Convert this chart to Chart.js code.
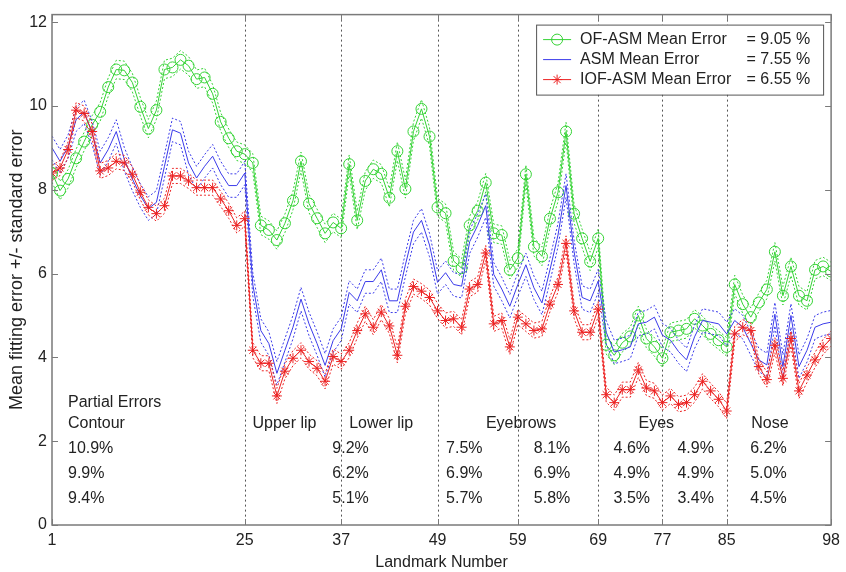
<!DOCTYPE html>
<html>
<head>
<meta charset="utf-8">
<script src="https://cdn.jsdelivr.net/npm/chart.js@4.4.1/dist/chart.umd.min.js"></script>
<style>
  html, body { margin: 0; padding: 0; background: #fff; }
</style>
</head>
<body>
<canvas id="chartErr" width="846" height="572"></canvas>
<script>
// axis ticks and region borders
const xTicks = [1, 25, 37, 49, 59, 69, 77, 85, 98];
const yTicks = [0, 2, 4, 6, 8, 10, 12];
const regionBounds = [25, 37, 49, 59, 69, 77, 85];

// landmark numbers 1..98
const landmarks = Array.from({ length: 98 }, (_, i) => i + 1);

// mean fitting error per landmark
const ofAsm = [
  8.4, 7.98, 8.26, 8.75, 9.15, 9.55, 9.86, 10.45, 10.87, 10.85,
  10.56, 9.98, 9.46, 9.9, 10.87, 10.92, 11.1, 10.96, 10.64, 10.68,
  10.29, 9.62, 9.23, 8.92, 8.85, 8.64, 7.15, 7.04, 6.8, 7.2,
  7.74, 8.68, 7.67, 7.32, 6.96, 7.22, 7.08, 8.61, 7.27, 8.21,
  8.49, 8.38, 7.81, 8.92, 8.02, 9.39, 9.93, 9.27, 7.58, 7.44,
  6.3, 6.13, 7.15, 7.5, 8.17, 6.96, 6.92, 6.09, 6.37, 8.37,
  6.64, 6.41, 7.31, 7.94, 9.39, 7.43, 6.84, 6.29, 6.84, 4.3,
  4.05, 4.35, 4.5, 5.0, 4.45, 4.25, 3.98, 4.6, 4.64, 4.68,
  4.92, 4.76, 4.56, 4.41, 4.25, 5.74, 5.27, 4.96, 5.31, 5.62,
  6.52, 5.47, 6.17, 5.47, 5.35, 6.09, 6.17, 6.05
];
const asm = [
  9.0, 8.68, 9.03, 9.67, 9.86, 9.35, 8.64, 8.96, 9.39, 8.73,
  8.26, 7.86, 7.55, 7.7, 8.56, 9.43, 9.35, 8.64, 8.28, 8.56,
  8.8, 8.4, 8.1, 8.1, 8.4, 5.74, 4.64, 4.33, 3.62, 4.17,
  4.72, 5.39, 4.8, 4.33, 3.81, 4.4, 4.68, 5.55, 5.35, 5.81,
  5.81, 6.09, 5.35, 5.35, 6.21, 6.99, 7.27, 6.68, 5.79, 6.02,
  5.74, 5.7, 6.76, 7.15, 7.62, 5.98, 5.63, 5.22, 5.74, 6.21,
  5.66, 5.3, 6.09, 6.92, 8.1, 6.52, 5.43, 5.35, 5.82, 4.6,
  4.13, 4.18, 4.25, 4.8, 4.84, 4.96, 4.53, 4.41, 4.14, 3.94,
  4.49, 4.88, 4.84, 4.8, 4.56, 4.88, 4.72, 4.33, 3.94, 3.82,
  5.03, 3.78, 5.0, 3.78, 4.17, 4.72, 4.8, 4.84
];
const iofAsm = [
  8.4, 8.52, 8.96, 9.9, 9.82, 9.39, 8.45, 8.52, 8.68, 8.64,
  8.37, 7.94, 7.58, 7.43, 7.62, 8.33, 8.33, 8.21, 8.05, 8.05,
  8.05, 7.78, 7.5, 7.15, 7.31, 4.17, 3.86, 3.86, 3.08, 3.67,
  3.98, 4.17, 3.9, 3.74, 3.43, 4.02, 3.9, 4.17, 4.64, 5.04,
  4.72, 5.08, 4.75, 4.05, 5.22, 5.69, 5.58, 5.43, 5.11, 4.88,
  4.92, 4.72, 5.63, 5.74, 6.49, 4.8, 4.88, 4.25, 4.96, 4.8,
  4.64, 4.68, 5.27, 5.74, 6.72, 5.11, 4.6, 4.6, 5.15, 3.11,
  2.92, 3.23, 3.23, 3.7, 3.27, 3.2, 2.92, 3.08, 2.88, 2.92,
  3.11, 3.43, 3.2, 3.0, 2.72, 4.56, 4.72, 4.64, 3.78, 3.47,
  4.29, 3.5, 4.45, 3.2, 3.58, 3.94, 4.25, 4.45
];

// standard error (dashed band) per method
const stdErrs = [0.22, 0.28, 0.18];

const seriesNames = ['OF-ASM Mean Error', 'ASM Mean Error', 'IOF-ASM Mean Error'];
const meanErrors = [9.05, 7.55, 6.55];

// partial errors per region column
const regionNames = ['Contour', 'Upper lip', 'Lower lip', 'Eyebrows', 'Eyes', 'Nose'];
const ofAsmPartial = [10.9, 9.2, 7.5, 8.1, 4.6, 4.9, 6.2];
const asmPartial = [9.9, 6.2, 6.9, 6.9, 4.9, 4.9, 5.0];
const iofAsmPartial = [9.4, 5.1, 5.7, 5.8, 3.5, 3.4, 4.5];


const FONT = '"Liberation Sans", Arial, sans-serif';
Chart.defaults.font.family = FONT;
Chart.defaults.color = '#222';

const styles = [
  { color: '#35d335', point: 'circle', radius: 5.5 },
  { color: '#3b3bea', point: false, radius: 0 },
  { color: '#ec2222', point: 'star', radius: 5 }
];
const allSeries = [ofAsm, asm, iofAsm];

function toPoints(arr, off) {
  return arr.map((v, i) => ({ x: landmarks[i], y: v + off }));
}

const datasets = [];
allSeries.forEach((arr, k) => {
  const st = styles[k];
  datasets.push({
    label: seriesNames[k],
    data: toPoints(arr, 0),
    borderColor: st.color,
    backgroundColor: 'rgba(0,0,0,0)',
    borderWidth: 1,
    pointStyle: st.point,
    pointRadius: st.radius,
    pointBorderWidth: 1,
    pointBorderColor: st.color,
    pointBackgroundColor: 'rgba(0,0,0,0)',
    tension: 0,
    order: 3 - k
  });
  [1, -1].forEach(sign => {
    datasets.push({
      label: seriesNames[k] + (sign > 0 ? ' +se' : ' -se'),
      data: toPoints(arr, sign * stdErrs[k]),
      borderColor: st.color,
      borderWidth: 1,
      borderDash: [2, 2],
      pointRadius: 0,
      tension: 0,
      order: 3 - k
    });
  });
});

// dotted region separators
const dividerPlugin = {
  id: 'dividers',
  beforeDatasetsDraw(chart) {
    const { ctx, chartArea: a, scales: { x } } = chart;
    ctx.save();
    ctx.strokeStyle = '#555';
    ctx.lineWidth = 1;
    ctx.setLineDash([2, 3]);
    regionBounds.forEach(b => {
      const px = Math.round(x.getPixelForValue(b)) + 0.5;
      ctx.beginPath();
      ctx.moveTo(px, a.top);
      ctx.lineTo(px, a.bottom);
      ctx.stroke();
    });
    ctx.restore();
  }
};

// box round the plot, ticks pointing inward
const framePlugin = {
  id: 'frame',
  afterDatasetsDraw(chart) {
    const { ctx, chartArea: a, scales: { x, y } } = chart;
    ctx.save();
    ctx.strokeStyle = '#7a7a7a';
    ctx.lineWidth = 1.5;
    ctx.strokeRect(a.left, a.top, a.right - a.left, a.bottom - a.top);
    ctx.lineWidth = 1;
    ctx.beginPath();
    yTicks.forEach(v => {
      const py = Math.round(y.getPixelForValue(v)) + 0.5;
      ctx.moveTo(a.left, py); ctx.lineTo(a.left + 6, py);
      ctx.moveTo(a.right, py); ctx.lineTo(a.right - 6, py);
    });
    xTicks.forEach(v => {
      const px = Math.round(x.getPixelForValue(v)) + 0.5;
      ctx.moveTo(px, a.bottom); ctx.lineTo(px, a.bottom - 6);
      ctx.moveTo(px, a.top); ctx.lineTo(px, a.top + 6);
    });
    ctx.stroke();
    ctx.restore();
  }
};

// partial errors table and legend box
const notesPlugin = {
  id: 'notes',
  afterDraw(chart) {
    const { ctx, chartArea: a, scales: { x, y } } = chart;
    ctx.save();
    ctx.fillStyle = '#222';
    ctx.font = '16px ' + FONT;
    ctx.textBaseline = 'middle';
    ctx.textAlign = 'left';

    ctx.fillText('Partial Errors', x.getPixelForValue(2.99), y.getPixelForValue(2.93));
    const nameX = [2.99, 25.96, 38.0, 55.02, 74.02, 88.06];
    regionNames.forEach((n, i) => {
      ctx.fillText(n, x.getPixelForValue(nameX[i]), y.getPixelForValue(2.41));
    });
    const colX = [2.99, 35.9, 50.06, 60.99, 70.92, 78.87, 87.93];
    const rowY = [1.83, 1.22, 0.63];
    [ofAsmPartial, asmPartial, iofAsmPartial].forEach((row, r) => {
      row.forEach((v, c) => {
        ctx.fillText(v.toFixed(1) + '%', x.getPixelForValue(colX[c]), y.getPixelForValue(rowY[r]));
      });
    });

    // legend
    const w = 287, h = 70;
    const L = a.right - 8 - w, T = a.top + 10;
    ctx.fillStyle = '#fff';
    ctx.fillRect(L, T, w, h);
    ctx.strokeStyle = '#555';
    ctx.lineWidth = 1;
    ctx.strokeRect(L + 0.5, T + 0.5, w, h);
    ctx.font = '16px ' + FONT;
    seriesNames.forEach((n, k) => {
      const st = styles[k];
      const ry = T + 15 + k * 20;
      ctx.strokeStyle = st.color;
      ctx.beginPath();
      ctx.moveTo(L + 7, ry); ctx.lineTo(L + 35, ry);
      ctx.stroke();
      if (st.point) {
        ctx.fillStyle = 'rgba(0,0,0,0)';
        Chart.helpers.drawPoint(ctx, { pointStyle: st.point, radius: st.radius, rotation: 0, borderWidth: 1 }, L + 21, ry);
      }
      ctx.fillStyle = '#222';
      ctx.textAlign = 'left';
      ctx.fillText(n, L + 44, ry);
      ctx.textAlign = 'right';
      ctx.fillText('= ' + meanErrors[k].toFixed(2) + ' %', L + w - 13, ry);
    });
    ctx.restore();
  }
};

new Chart(document.getElementById('chartErr').getContext('2d'), {
  type: 'line',
  data: { datasets },
  options: {
    responsive: false,
    animation: false,
    devicePixelRatio: 1,
    layout: { padding: { top: 5, right: 13, left: 0, bottom: 0 } },
    plugins: { legend: { display: false }, tooltip: { enabled: false } },
    scales: {
      x: {
        type: 'linear',
        min: 1,
        max: 98,
        afterBuildTicks: s => { s.ticks = xTicks.map(v => ({ value: v })); },
        afterFit: s => { s.height = 47; },
        grid: { display: false, drawTicks: false },
        border: { display: false },
        ticks: { font: { size: 16 }, padding: 6, maxRotation: 0, autoSkip: false },
        title: { display: true, text: 'Landmark Number', font: { size: 16 }, padding: { top: 0, bottom: 0 } }
      },
      y: {
        min: 0,
        max: 12.18,
        afterBuildTicks: s => { s.ticks = yTicks.map(v => ({ value: v })); },
        afterFit: s => { s.width = 52; },
        grid: { display: false, drawTicks: false },
        border: { display: false },
        ticks: { font: { size: 16 }, padding: 5 },
        title: { display: true, text: 'Mean fitting error +/- standard error', font: { size: 18 }, padding: { top: 6, bottom: 0 } }
      }
    }
  },
  plugins: [dividerPlugin, framePlugin, notesPlugin]
});
</script>
</body>
</html>
